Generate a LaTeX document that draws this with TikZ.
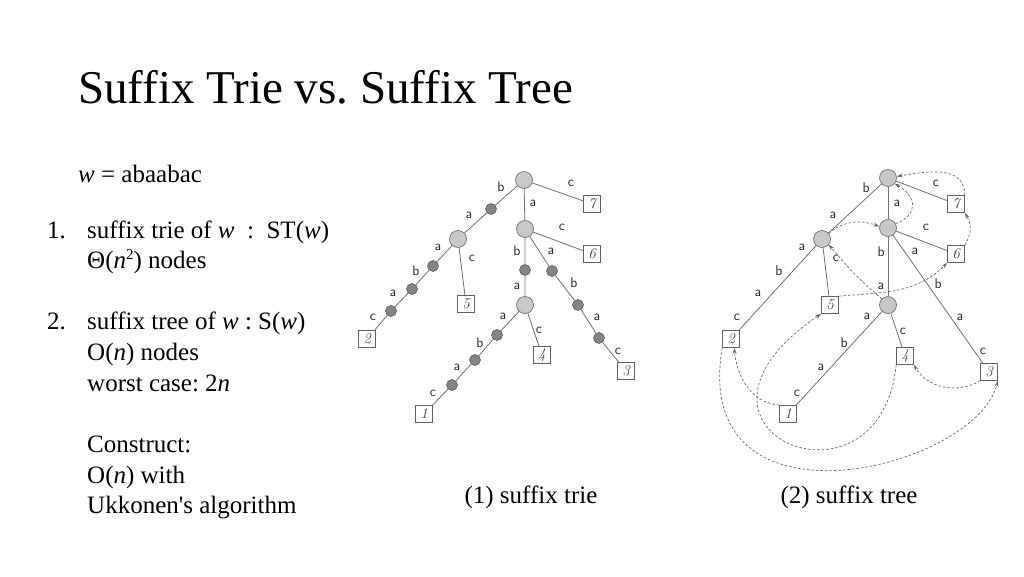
\documentclass[tikz,border=0pt]{standalone}
\usepackage{fontspec}
\newfontfamily\tnr{Liberation Serif}
\usetikzlibrary{arrows.meta}
\definecolor{edgegray}{HTML}{707070}
\definecolor{nodelight}{HTML}{C8C8C8}
\definecolor{nodedark}{HTML}{848484}
\definecolor{darkborder}{HTML}{5E5E5E}
\definecolor{boxgray}{HTML}{606060}
\begin{document}
\frenchspacing
\begin{tikzpicture}[x=1pt,y=-1pt,
  bignode/.style={circle, draw=edgegray, fill=nodelight, minimum size=17pt, inner sep=0pt, line width=0.7pt},
  darknode/.style={circle, draw=darkborder, fill=nodedark, minimum size=11pt, inner sep=0pt, line width=0.6pt},
  leafbox/.style={draw=boxgray, fill=white, minimum size=17pt, inner sep=0pt, font=\rmfamily\itshape\fontsize{15}{15}\selectfont, text=black!75, line width=0.7pt},
  lbl/.style={font=\sffamily\fontsize{14}{14}\selectfont, text=black!85, inner sep=0pt},
  trieedge/.style={draw=edgegray, line width=0.8pt},
  sflink/.style={draw=black!60, dash pattern=on 2.5pt off 2pt, line width=0.7pt, -{Stealth[length=6pt,width=4pt]}},
  bodytext/.style={font=\tnr\fontsize{25}{25}\selectfont, anchor=base west, inner sep=0pt},
]
\useasboundingbox[fill=white] (0,0) rectangle (1024,576);

% ---------- text ----------
\node[font=\tnr\fontsize{47}{47}\selectfont, anchor=base west, inner sep=0pt] (title) at (78,103) {Suffix Trie vs. Suffix Tree};
\node[bodytext] (wdef) at (78,182) {\textit{w} = abaabac};
\node[bodytext] (n1) at (47,238) {1.};
\node[bodytext] (t1a) at (87,238) {suffix trie of \textit{w}\ \ :\ \ ST(\textit{w})};
\node[bodytext] (t1b) at (87,268) {Θ(\textit{n}\raisebox{9pt}{\fontsize{15}{15}\selectfont 2}) nodes};
\node[bodytext] (n2) at (47,329) {2.};
\node[bodytext] (t2a) at (87,329) {suffix tree of \textit{w} :\ S(\textit{w})};
\node[bodytext] (t2b) at (87,360) {O(\textit{n}) nodes};
\node[bodytext] (t2c) at (87,391) {worst case: 2\textit{n}};
\node[bodytext] (t3a) at (87,452) {Construct:};
\node[bodytext] (t3b) at (87,483) {O(\textit{n}) with};
\node[bodytext] (t3c) at (87,513) {Ukkonen\textquotesingle s algorithm};
\node[font=\tnr\fontsize{25}{25}\selectfont, inner sep=0pt] (cap1) at (531,497) {(1) suffix trie};
\node[font=\tnr\fontsize{25}{25}\selectfont, inner sep=0pt] (cap2) at (849,497) {(2) suffix tree};

% ---------- suffix trie ----------
\node[bignode] (R1) at (524,180) {};
\node[darknode] (d1) at (491,209) {};
\node[bignode] (A1) at (458,239) {};
\node[leafbox] (L7) at (592,204) {7};
\node[bignode] (B1) at (525,229) {};
\node[leafbox] (L6) at (592,254) {6};
\node[leafbox] (L5) at (466,304) {5};
\node[darknode] (d2) at (433,266) {};
\node[darknode] (d3) at (412,289) {};
\node[darknode] (d4) at (391,311) {};
\node[leafbox] (L2) at (367,339) {2};
\node[darknode] (d5) at (525,270) {};
\node[bignode] (C1) at (525,305) {};
\node[darknode] (d6) at (552,271) {};
\node[darknode] (d7) at (578,305) {};
\node[darknode] (d8) at (599,338) {};
\node[leafbox] (L3) at (626,371) {3};
\node[leafbox] (L4) at (542,355) {4};
\node[darknode] (d9) at (497,335) {};
\node[darknode] (d10) at (475,360) {};
\node[darknode] (d11) at (452,385) {};
\node[leafbox] (L1) at (424,414) {1};

\draw[trieedge] (R1) -- (d1) -- (A1) -- (d2) -- (d3) -- (d4) -- (L2);
\draw[trieedge] (A1) -- (L5);
\draw[trieedge] (R1) -- (L7);
\draw[trieedge] (R1) -- (B1) -- (d5) -- (C1) -- (d9) -- (d10) -- (d11) -- (L1);
\draw[trieedge] (B1) -- (L6);
\draw[trieedge] (B1) -- (d6) -- (d7) -- (d8) -- (L3);
\draw[trieedge] (C1) -- (L4);

\node[lbl] (tl1) at (501,187) {b};
\node[lbl] (tl2) at (469,215) {a};
\node[lbl] (tl3) at (571,183) {c};
\node[lbl] (tl4) at (533,203) {a};
\node[lbl] (tl5) at (562,227) {c};
\node[lbl] (tl6) at (517,251) {b};
\node[lbl] (tl7) at (551,251) {a};
\node[lbl] (tl8) at (517,286) {a};
\node[lbl] (tl9) at (574,283) {b};
\node[lbl] (tl10) at (597,317) {a};
\node[lbl] (tl11) at (618,351) {c};
\node[lbl] (tl12) at (472,258) {c};
\node[lbl] (tl13) at (438,247) {a};
\node[lbl] (tl14) at (416,271) {b};
\node[lbl] (tl15) at (393,293) {a};
\node[lbl] (tl16) at (373,317) {c};
\node[lbl] (tl17) at (503,316) {a};
\node[lbl] (tl18) at (539,330) {c};
\node[lbl] (tl19) at (480,343) {b};
\node[lbl] (tl20) at (457,367) {a};
\node[lbl] (tl21) at (433,393) {c};

% ---------- suffix tree ----------
\node[bignode] (R2) at (888,178) {};
\node[bignode] (A2) at (822,239) {};
\node[bignode] (B2) at (888,228) {};
\node[bignode] (C2) at (888,305) {};
\node[leafbox] (T7) at (956,204) {7};
\node[leafbox] (T6) at (956,254) {6};
\node[leafbox] (T5) at (830,305) {5};
\node[leafbox] (T2) at (731,339) {2};
\node[leafbox] (T4) at (905,356) {4};
\node[leafbox] (T1) at (788,414) {1};
\node[leafbox] (T3) at (989,372) {3};

\draw[trieedge] (R2) -- (A2);
\draw[trieedge] (R2) -- (T7);
\draw[trieedge] (R2) -- (B2);
\draw[trieedge] (A2) -- (T5);
\draw[trieedge] (A2) -- (T2);
\draw[trieedge] (B2) -- (T6);
\draw[trieedge] (B2) -- (C2);
\draw[trieedge] (B2) -- (T3);
\draw[trieedge] (C2) -- (T4);
\draw[trieedge] (C2) -- (T1);

\node[lbl] (sl1) at (866,188) {b};
\node[lbl] (sl2) at (833,215) {a};
\node[lbl] (sl3) at (936,183) {c};
\node[lbl] (sl4) at (897,203) {a};
\node[lbl] (sl5) at (836,258) {c};
\node[lbl] (sl6) at (802,247) {a};
\node[lbl] (sl7) at (779,271) {b};
\node[lbl] (sl8) at (758,293) {a};
\node[lbl] (sl9) at (737,317) {c};
\node[lbl] (sl10) at (926,227) {c};
\node[lbl] (sl11) at (881,252) {b};
\node[lbl] (sl12) at (881,286) {a};
\node[lbl] (sl13) at (915,251) {a};
\node[lbl] (sl14) at (938,284) {b};
\node[lbl] (sl15) at (960,317) {a};
\node[lbl] (sl16) at (983,351) {c};
\node[lbl] (sl17) at (903,331) {c};
\node[lbl] (sl18) at (867,316) {a};
\node[lbl] (sl19) at (844,343) {b};
\node[lbl] (sl20) at (821,367) {a};
\node[lbl] (sl21) at (797,393) {c};

% suffix links
\draw[sflink] (T7.north east) to[out=90, in=10, looseness=1.1] (R2.10);
\draw[sflink] (T6.north east) to[out=60, in=-60, looseness=1.1] (T7.south east);
\draw[sflink] (B2.30) to[out=20, in=-30, looseness=1.6] (R2.-40);
\draw[sflink] (A2.40) to[out=40, in=160] (B2.170);
\draw[sflink] (C2.135) to[out=140, in=-50] (A2.-40);
\draw[sflink] (T5.north east) to[out=5, in=-135] (T6.south west);
\draw[sflink] (T4.south west) .. controls (880,525) and (650,430) .. (T5.south west);
\draw[sflink] (T3.south west) to[out=-150, in=-60] (T4.south east);
\draw[sflink] (T2.south west) .. controls (690,540) and (975,470) .. (T3.south east);
\draw[sflink] (T1.north west) to[out=175, in=-85] (T2.-70);
\end{tikzpicture}
\end{document}
